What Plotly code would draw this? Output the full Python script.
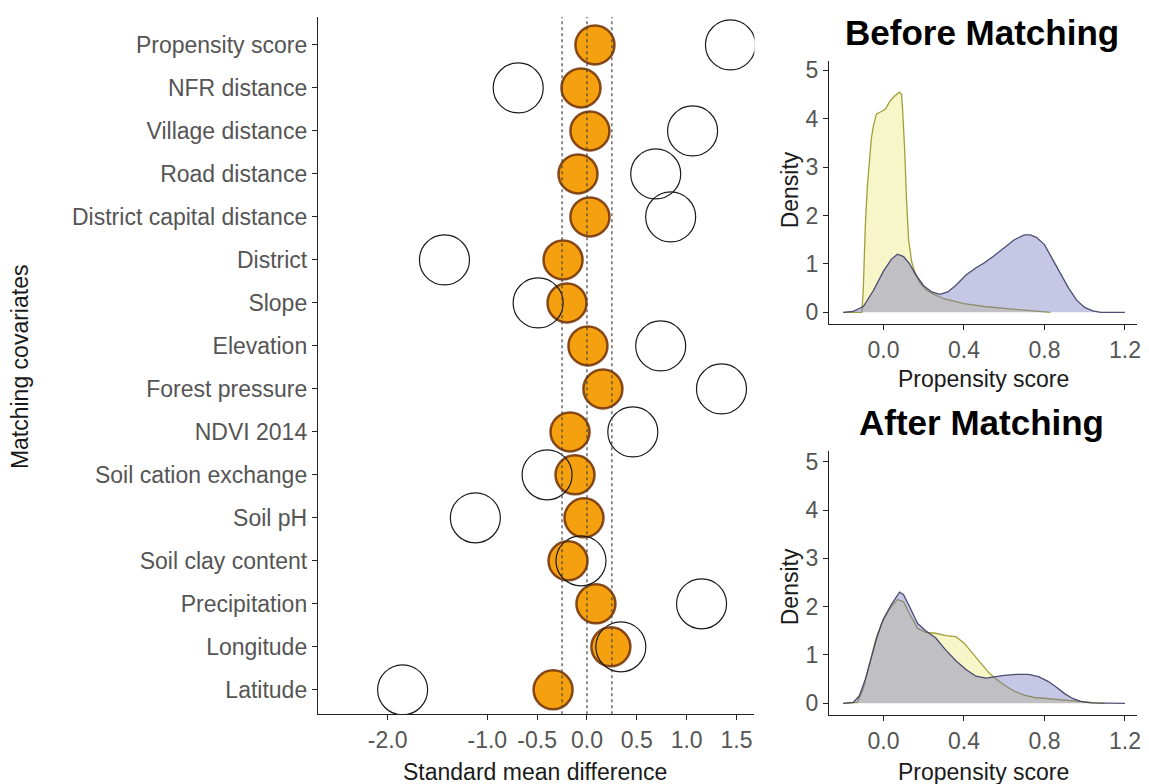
import plotly.graph_objects as go

# ---------------- data ----------------
covariates = ["Propensity score", "NFR distance", "Village distance", "Road distance",
              "District capital distance", "District", "Slope", "Elevation",
              "Forest pressure", "NDVI 2014", "Soil cation exchange", "Soil pH",
              "Soil clay content", "Precipitation", "Longitude", "Latitude"]
smd_before = [1.44, -0.69, 1.06, 0.69, 0.84, -1.43, -0.49, 0.74,
              1.35, 0.46, -0.40, -1.12, -0.06, 1.15, 0.34, -1.85]
smd_after = [0.08, -0.06, 0.03, -0.09, 0.03, -0.24, -0.20, 0.01,
             0.16, -0.17, -0.12, -0.03, -0.19, 0.09, 0.24, -0.34]
ref_lines = [-0.25, 0.0, 0.25]
smd_ticks = [-2.0, -1.0, -0.5, 0.0, 0.5, 1.0, 1.5]
smd_ticklabels = ["-2.0", "-1.0", "-0.5", "0.0", "0.5", "1.0", "1.5"]

bef_ctrl_x = [-0.2, -0.107, -0.10, -0.09, -0.08, -0.07, -0.06, -0.05, -0.035, -0.01, 0.01, 0.03,
              0.05, 0.08, 0.09, 0.095, 0.105, 0.115, 0.125, 0.14, 0.155, 0.18, 0.21, 0.25,
              0.30, 0.40, 0.50, 0.60, 0.70, 0.80, 0.83]
bef_ctrl_y = [0, 0, 0.5, 1.8, 2.6, 3.2, 3.6, 3.85, 4.1, 4.15, 4.2, 4.35,
              4.45, 4.55, 4.5, 4.2, 3.4, 2.3, 1.5, 1.05, 0.84, 0.62, 0.47, 0.37,
              0.28, 0.18, 0.12, 0.08, 0.05, 0.02, 0.0]
bef_trt_x = [-0.2, -0.15, -0.1, -0.05, 0.0, 0.04, 0.07, 0.1, 0.13, 0.16, 0.2, 0.24, 0.28,
             0.32, 0.36, 0.41, 0.46, 0.5, 0.55, 0.6, 0.65, 0.7, 0.73, 0.76, 0.8, 0.84,
             0.88, 0.92, 0.96, 1.0, 1.04, 1.08, 1.2]
bef_trt_y = [0, 0.02, 0.12, 0.45, 0.85, 1.1, 1.2, 1.15, 1.0, 0.78, 0.55, 0.42, 0.37,
             0.42, 0.56, 0.77, 0.92, 1.02, 1.17, 1.33, 1.5, 1.6, 1.6, 1.55, 1.4, 1.1,
             0.8, 0.5, 0.25, 0.1, 0.03, 0.0, 0.0]
aft_ctrl_x = [-0.2, -0.13, -0.1, -0.07, -0.04, -0.01, 0.03, 0.07, 0.1, 0.13, 0.17, 0.21,
              0.26, 0.31, 0.36, 0.4, 0.44, 0.48, 0.52, 0.56, 0.6, 0.65, 0.7, 0.75, 0.8,
              0.85, 0.9, 0.95, 1.0, 1.06, 1.1]
aft_ctrl_y = [0, 0.02, 0.3, 0.8, 1.3, 1.65, 1.95, 2.15, 2.1, 1.85, 1.55, 1.47,
              1.45, 1.4, 1.38, 1.25, 1.05, 0.85, 0.65, 0.5, 0.38, 0.25, 0.17, 0.12, 0.1,
              0.09, 0.07, 0.05, 0.03, 0.01, 0.0]
aft_trt_x = [-0.2, -0.15, -0.12, -0.09, -0.06, -0.03, 0.0, 0.04, 0.08, 0.1, 0.13, 0.17,
             0.21, 0.26, 0.31, 0.36, 0.41, 0.46, 0.51, 0.56, 0.6, 0.66, 0.72, 0.77, 0.82,
             0.86, 0.9, 0.94, 0.98, 1.03, 1.2]
aft_trt_y = [0, 0.02, 0.15, 0.5, 0.95, 1.4, 1.75, 2.05, 2.3, 2.25, 2.0, 1.65,
             1.5, 1.35, 1.1, 0.88, 0.7, 0.56, 0.52, 0.55, 0.58, 0.6, 0.6, 0.55, 0.45,
             0.33, 0.2, 0.1, 0.04, 0.01, 0.0]
ps_ticks = [0.0, 0.4, 0.8, 1.2]
ps_ticklabels = ["0.0", "0.4", "0.8", "1.2"]
dens_ticks = [0, 1, 2, 3, 4, 5]

# ---------------- style ----------------
OFF = 8  # default page body margin
W, H = 1149 - OFF, 784 - OFF
FONT = "Liberation Sans, Arial, sans-serif"
TICKC = "#555555"
YEL_FILL = "rgba(228,228,92,0.33)"
YEL_LINE = "rgba(150,150,40,0.9)"
BLU_FILL = "rgba(112,112,190,0.40)"
BLU_LINE = "rgba(60,60,100,0.9)"


def px_x(p):
    return (p - OFF) / W


def px_y(p):
    return 1 - (p - OFF) / H


fig = go.Figure()

fig.add_trace(go.Scatter(
    x=smd_after, y=covariates, mode="markers", xaxis="x", yaxis="y",
    marker=dict(size=39, color="#F5A00F", line=dict(color="rgba(120,55,10,0.9)", width=2.5)),
    showlegend=False, hoverinfo="x+y"))
fig.add_trace(go.Scatter(
    x=smd_before, y=covariates, mode="markers", xaxis="x", yaxis="y",
    marker=dict(size=50, color="rgba(0,0,0,0)", line=dict(color="#1a1a1a", width=1.2)),
    showlegend=False, hoverinfo="x+y"))

for xs, ys, fill, line, ax, ay in [
    (bef_ctrl_x, bef_ctrl_y, YEL_FILL, YEL_LINE, "x2", "y2"),
    (bef_trt_x, bef_trt_y, BLU_FILL, BLU_LINE, "x2", "y2"),
    (aft_ctrl_x, aft_ctrl_y, YEL_FILL, YEL_LINE, "x3", "y3"),
    (aft_trt_x, aft_trt_y, BLU_FILL, BLU_LINE, "x3", "y3"),
]:
    fig.add_trace(go.Scatter(x=xs, y=ys, mode="lines", fill="tozeroy", fillcolor=fill,
                             line=dict(color=line, width=1.3), xaxis=ax, yaxis=ay,
                             showlegend=False))

for v in ref_lines:
    fig.add_shape(type="line", xref="x", yref="y domain", x0=v, x1=v, y0=0, y1=1,
                  line=dict(color="#444444", width=1.2, dash="dot"), layer="above")

axis_common = dict(showline=True, linecolor="#222222", linewidth=1.2, ticks="outside",
                   ticklen=5, tickcolor="#222222", tickwidth=1.1, showgrid=False,
                   zeroline=False, tickfont=dict(family=FONT, size=23, color=TICKC))

fig.update_layout(
    width=W, height=H, margin=dict(l=0, r=0, t=0, b=0),
    paper_bgcolor="white", plot_bgcolor="white",
    font=dict(family=FONT),
    xaxis=dict(domain=[px_x(319), px_x(757)], range=[-2.70, 1.68], anchor="y",
               tickvals=smd_ticks, ticktext=smd_ticklabels, **axis_common),
    yaxis=dict(domain=[px_y(715), px_y(14)], anchor="x", type="category",
               categoryorder="array", categoryarray=covariates[::-1],
               range=[-0.57, 15.65], **axis_common),
    xaxis2=dict(domain=[px_x(832), px_x(1141)], range=[-0.27, 1.26], anchor="y2",
                tickvals=ps_ticks, ticktext=ps_ticklabels, **axis_common),
    yaxis2=dict(domain=[px_y(323), px_y(58)], range=[-0.25, 5.2], anchor="x2",
                tickvals=dens_ticks, **axis_common),
    xaxis3=dict(domain=[px_x(832), px_x(1141)], range=[-0.27, 1.26], anchor="y3",
                tickvals=ps_ticks, ticktext=ps_ticklabels, **axis_common),
    yaxis3=dict(domain=[px_y(716), px_y(450)], range=[-0.25, 5.23], anchor="x3",
                tickvals=dens_ticks, **axis_common),
)

title_font = dict(family=FONT, size=23, color="#1a1a1a")
annos = [
    dict(text="Matching covariates", x=px_x(20), y=px_y(365), textangle=-90, font=title_font),
    dict(text="Standard mean difference", x=px_x(537), y=px_y(773), font=title_font),
    dict(text="Density", x=px_x(793), y=px_y(188), textangle=-90, font=title_font),
    dict(text="Density", x=px_x(793), y=px_y(587), textangle=-90, font=title_font),
    dict(text="Propensity score", x=px_x(987), y=px_y(378), font=title_font),
    dict(text="Propensity score", x=px_x(987), y=px_y(773), font=title_font),
    dict(text="<b>Before Matching</b>", x=px_x(985), y=px_y(30),
         font=dict(family=FONT, size=35, color="black")),
    dict(text="<b>After Matching</b>", x=px_x(985), y=px_y(422),
         font=dict(family=FONT, size=35, color="black")),
]
for a in annos:
    fig.add_annotation(xref="paper", yref="paper", showarrow=False,
                       xanchor="center", yanchor="middle", **a)

fig.write_html("out.html")
